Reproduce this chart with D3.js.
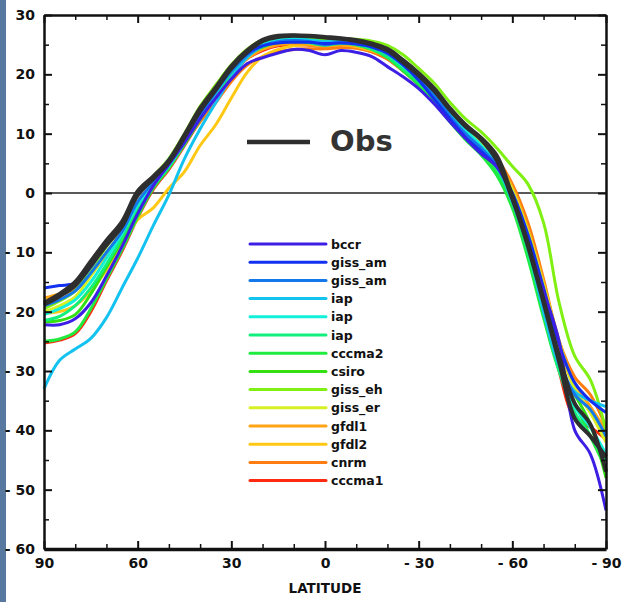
<!DOCTYPE html>
<html>
<head>
<meta charset="utf-8">
<script src="https://cdn.jsdelivr.net/npm/d3@7"></script>
<style>
  html, body { margin: 0; padding: 0; background: #ffffff; }
  svg { display: block; }
  .tick text { font-family: "DejaVu Sans", sans-serif; font-weight: bold; font-size: 14px; fill: #111; }
</style>
</head>
<body>
<script>
// Zonal-mean surface temperature (°C) by latitude: observations and models
const lats = [90,85,80,75,70,65,60,55,50,45,40,35,30,25,20,15,10,5,0,-5,-10,-15,-20,-25,-30,-35,-40,-45,-50,-55,-60,-65,-70,-75,-80,-85,-90];

const obsA = [-18.5,-17,-15,-11.5,-8,-4.8,0.3,2.8,5.5,9.8,14.3,17.8,21.4,24,25.8,26.5,26.6,26.5,26.3,26.1,25.8,25.2,24.3,22.4,20.2,17.6,14.3,11.5,9.3,6.3,-0.5,-8.5,-18,-27.5,-35.5,-39,-47];
const obsB = [-18.8,-17.4,-15.6,-12.2,-8.8,-5.6,-0.3,2.4,5.2,9.4,13.8,17.4,21,23.7,25.6,26.3,26.5,26.4,26.2,26,25.6,25,24,22,19.8,17.2,14,11.2,9,5.5,-1,-9,-18.5,-28.5,-38,-41,-44.5];

const bccr    = [-22.2,-22.2,-21.2,-18.5,-14,-9,-3.5,1.2,4.8,8.5,12.5,16,19.2,21.8,22.8,23.6,24.2,24,23.3,24,23.7,23,21.3,19.6,17.6,15,12,9.2,6.6,4.4,-0.5,-8.5,-16.5,-25,-40,-44,-53.5];
const gissAm1 = [-16,-15.6,-15.2,-12.5,-8.5,-5,-0.5,2.5,5.6,9.6,13.6,17.5,21,23.5,24.8,25.3,25.4,25.4,25.2,25.3,25.1,24.6,23.6,21.6,19,15.8,12.5,9.4,7,4.5,0,-7,-16,-25.5,-32,-35,-37];
const gissAm2 = [-19,-18,-16.5,-13.5,-10,-6.5,-1.5,1.8,5,9,13,17,20.5,23.2,24.8,25.5,25.7,25.5,25,25.4,25.2,24.6,23.5,21.6,19.4,16.6,13,10,7.6,4.6,-0.5,-8.5,-18,-28,-34,-36.5,-41];
const iap1    = [-33,-28.2,-26.3,-24.5,-21,-16,-11,-5.5,-0.3,5.8,10.8,15.2,19.5,22.8,24.8,25.6,25.8,25.7,25.5,25.6,25.4,24.8,23.8,21.8,19.6,17,13.8,11,9.2,5,-1.5,-9,-20,-29,-33.5,-35,-36];
const iap2    = [-20.5,-19.5,-18,-15,-11,-6.8,-2,1.5,4.6,8.6,12.8,16.8,20.6,23.5,25.1,25.8,26,25.8,25.5,25.6,25.3,24.7,23.5,21.4,19.2,16.5,13.5,10.6,8,4.8,-0.5,-8.5,-18.5,-29,-36,-39.5,-44];
const iap3    = [-21.5,-20.8,-19,-16,-12,-7.5,-2.5,1.2,4.5,8.5,12.6,16.6,20.4,23.2,24.8,25.5,25.6,25.3,24.9,25.2,25,24.3,23,21,18.8,16,12.8,9.8,7.2,4,-1.5,-10,-20,-30,-37,-41,-45];
const cccma2  = [-25,-24.6,-23.4,-19.5,-14.5,-9.5,-4,0.8,4.2,8.2,12.4,16.4,20.2,23,24.6,25.4,25.6,25.5,25.2,25.4,25,24.2,22.8,20.6,18.2,15.2,12,9,6.4,3,-2.5,-11,-21,-30,-35.5,-41,-46.5];
const csiro   = [-21.7,-21.5,-20.5,-17,-12.5,-8,-2.8,1.5,4.8,8.8,13,17,20.8,23.6,25.2,25.9,26,25.8,25.6,25.7,25.3,24.5,23.2,21,18.6,15.6,12.3,9.2,6.8,3.5,-2,-10.5,-20.5,-29.5,-34,-39,-48];
const gissEh  = [-19.5,-18.2,-16.5,-13,-9,-5.5,0,2.8,5.8,10,14.6,18.2,21.6,24.2,25.8,26.3,26.2,26,25.9,26,25.9,25.6,24.9,23.3,21,18.5,15.3,12.5,10.3,7.6,4.5,1.5,-5,-18.5,-27.5,-31.5,-40];
const gissEr  = [-20,-19,-17.5,-14,-10,-6.5,-1.5,2,5.2,9.4,14,17.8,21.4,24,25.7,26.4,26.5,26.3,26,26,25.7,25,24,22,19.8,17,13.8,10.8,8.4,5.5,0.5,-6.5,-15.5,-25,-33,-37,-42];
const gfdl1   = [-17.7,-17,-16.2,-13.5,-10.5,-7,-2.2,1.5,4.8,8.6,12.6,16.4,20,22.6,24.2,25,25.2,25,24.8,25,24.8,24.2,23.2,21.3,19,16.3,13.2,10.4,8.2,5.5,1,-6,-15,-25,-32,-36,-40];
const gfdl2   = [-20.3,-20,-19,-16.5,-13,-9,-4.5,-2.5,0.8,3.6,8,11.5,16,20.3,23,24.2,24.8,25,24.8,25,24.7,24,23,21,18.8,16,13,10.2,8,5.2,0,-7,-16,-26,-33,-37,-42];
const cnrm    = [-19,-18,-16.5,-13.8,-10.2,-6.4,-1.5,2,5,8.6,12,15.2,18.8,21.5,23,23.8,24.2,24.3,24.3,24.5,24.4,23.8,22.6,20.6,18.4,15.8,13,10.4,8.3,5.8,1.5,-5,-14.5,-25,-31,-34,-39.5];
const cccma1  = [-25.3,-24.8,-23.7,-20,-14.8,-9.8,-4.2,0.6,4,8,12.2,16.2,19.8,22.6,24,24.8,25,24.9,24.7,24.9,24.6,23.8,22.6,20.6,18.2,15.4,12.3,9.5,7,4.2,-1,-9.5,-17.5,-30,-38,-39.5,-41.5];

const modelNames = ["bccr","giss_am","giss_am","iap","iap","iap","cccma2","csiro","giss_eh","giss_er","gfdl1","gfdl2","cnrm","cccma1"];
const modelValues = [bccr,gissAm1,gissAm2,iap1,iap2,iap3,cccma2,csiro,gissEh,gissEr,gfdl1,gfdl2,cnrm,cccma1];
const palette = ["#3c1ee4","#1230f0","#1478ea","#14c2f0","#12f0da","#12f07c","#20ec40","#34e012","#80f012","#d6f022","#ffa414","#ffc814","#ff7c10","#ff2a10"];

const yMajor = [30,20,10,0,-10,-20,-30,-40,-50,-60];
const xMajor = [90,60,30,0,-30,-60,-90];
const obsLabel = "Obs";
const axisTitle = "LATITUDE";

const W = 622, H = 602;
const margin = { left: 44, top: 15, right: 16, bottom: 53 };
const svg = d3.select("body").append("svg").attr("width", W).attr("height", H);

// slide edge strip
svg.append("rect").attr("x", 0).attr("y", 0).attr("width", 6).attr("height", H).attr("fill", "#57799f");

const x = d3.scaleLinear().domain([90, -90]).range([margin.left, W - margin.right]);
const y = d3.scaleLinear().domain([-60, 30]).range([H - margin.bottom, margin.top]);

const fmt = v => v < 0 ? "- " + Math.abs(v) : String(v);
const yMinor = d3.range(-55, 30, 10);
const xMinor = d3.range(-80, 90, 10).filter(v => v % 30 !== 0);

// zero line
svg.append("line")
  .attr("x1", x(90)).attr("x2", x(-90))
  .attr("y1", y(0)).attr("y2", y(0))
  .attr("stroke", "#222").attr("stroke-width", 1.5);

// curves
const line = d3.line()
  .x((d, i) => x(lats[i]))
  .y(d => y(d))
  .curve(d3.curveCatmullRom.alpha(0.5));

const gLines = svg.append("g");
for (let k = modelValues.length - 1; k >= 0; k--) {
  gLines.append("path")
    .attr("d", line(modelValues[k]))
    .attr("fill", "none")
    .attr("stroke", palette[k])
    .attr("stroke-width", 3)
    .attr("stroke-linejoin", "round");
}
[obsB, obsA].forEach(s => {
  gLines.append("path")
    .attr("d", line(s))
    .attr("fill", "none")
    .attr("stroke", "#2e2e2e")
    .attr("stroke-width", 4)
    .attr("stroke-linejoin", "round");
});

// axes
function styleAxis(g, w) {
  g.select(".domain").attr("stroke", "#111").attr("stroke-width", w);
  g.selectAll(".tick line").attr("stroke", "#111").attr("stroke-width", 2);
}
function styleMinor(g) {
  g.select(".domain").remove();
  g.selectAll(".tick line").attr("stroke", "#111").attr("stroke-width", 1.5);
}

const axLeft = svg.append("g").attr("transform", `translate(${margin.left},0)`)
  .call(d3.axisLeft(y).tickValues(yMajor).tickSizeInner(-8).tickSizeOuter(0).tickPadding(9).tickFormat(fmt));
styleAxis(axLeft, 2.5);
svg.append("g").attr("transform", `translate(${margin.left},0)`)
  .call(d3.axisLeft(y).tickValues(yMinor).tickSizeInner(-5).tickSizeOuter(0).tickFormat(""))
  .call(styleMinor);

const axRight = svg.append("g").attr("transform", `translate(${W - margin.right},0)`)
  .call(d3.axisRight(y).tickValues(yMajor).tickSizeInner(-8).tickSizeOuter(0).tickFormat(""));
styleAxis(axRight, 2.5);
svg.append("g").attr("transform", `translate(${W - margin.right},0)`)
  .call(d3.axisRight(y).tickValues(yMinor).tickSizeInner(-5).tickSizeOuter(0).tickFormat(""))
  .call(styleMinor);

const axBottom = svg.append("g").attr("transform", `translate(0,${H - margin.bottom})`)
  .call(d3.axisBottom(x).tickValues(xMajor).tickSizeInner(-8).tickSizeOuter(0).tickPadding(9).tickFormat(fmt));
styleAxis(axBottom, 3.5);
svg.append("g").attr("transform", `translate(0,${H - margin.bottom})`)
  .call(d3.axisBottom(x).tickValues(xMinor).tickSizeInner(-5).tickSizeOuter(0).tickFormat(""))
  .call(styleMinor);

const axTop = svg.append("g").attr("transform", `translate(0,${margin.top})`)
  .call(d3.axisTop(x).tickValues(xMajor).tickSizeInner(-8).tickSizeOuter(0).tickFormat(""));
styleAxis(axTop, 2.5);
svg.append("g").attr("transform", `translate(0,${margin.top})`)
  .call(d3.axisTop(x).tickValues(xMinor).tickSizeInner(-5).tickSizeOuter(0).tickFormat(""))
  .call(styleMinor);

svg.append("text")
  .attr("x", x(0)).attr("y", 593)
  .attr("text-anchor", "middle")
  .attr("font-family", "DejaVu Sans, sans-serif").attr("font-weight", "bold").attr("font-size", 13.5)
  .attr("fill", "#111")
  .text(axisTitle);

// observation key
svg.append("line")
  .attr("x1", 247).attr("x2", 310).attr("y1", 142).attr("y2", 142)
  .attr("stroke", "#2e2e2e").attr("stroke-width", 4.5);
svg.append("text")
  .attr("x", 330).attr("y", 151)
  .attr("font-family", "DejaVu Sans, sans-serif").attr("font-weight", "bold").attr("font-size", 29)
  .attr("fill", "#333")
  .text(obsLabel);

// model legend
const legend = svg.append("g");
modelNames.forEach((name, i) => {
  const ly = 244 + i * 18.2;
  legend.append("line")
    .attr("x1", 250).attr("x2", 326).attr("y1", ly).attr("y2", ly)
    .attr("stroke", palette[i]).attr("stroke-width", 3).attr("stroke-linecap", "round");
  legend.append("text")
    .attr("x", 331).attr("y", ly + 4.5)
    .attr("font-family", "DejaVu Sans, sans-serif").attr("font-weight", "bold").attr("font-size", 12.5)
    .attr("fill", "#111")
    .text(name);
});
</script>
</body>
</html>
